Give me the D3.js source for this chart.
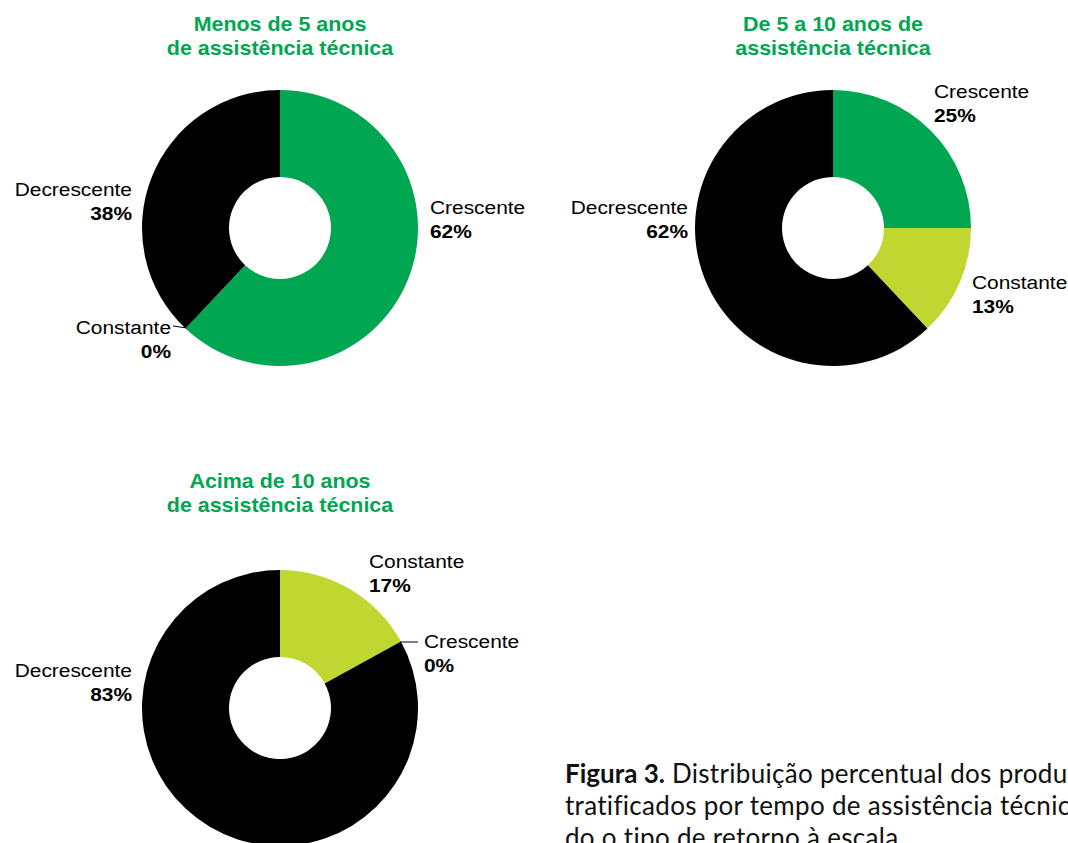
<!DOCTYPE html>
<html><head><meta charset="utf-8">
<script src="https://cdn.jsdelivr.net/npm/d3@7"></script>
<style>
html,body{margin:0;padding:0;background:#fff;}
svg{display:block;}
</style></head>
<body>
<svg id="chart" width="1068" height="843"></svg>
<script>
// ---- data ----
const chartTitles = [
  ["Menos de 5 anos", "de assistência técnica"],
  ["De 5 a 10 anos de", "assistência técnica"],
  ["Acima de 10 anos", "de assistência técnica"]
];
const categories1 = ["Crescente", "Constante", "Decrescente"];
const values1 = [62, 0, 38];
const categories2 = ["Crescente", "Constante", "Decrescente"];
const values2 = [25, 13, 62];
const categories3 = ["Constante", "Crescente", "Decrescente"];
const values3 = [17, 0, 83];
const captionLines = [
  ["Figura 3.", " Distribuição percentual dos produ"],
  ["", "tratificados por tempo de assistência técnica"],
  ["", "do o tipo de retorno à escala"]
];

// ---- styles / layout ----
const colorOf = {Crescente: "#00a651", Constante: "#bfd730", Decrescente: "#000000"};
const titleColor = "#00a651";
const outerR = 138, innerR = 51;
const layouts = [
  {cx: 280, cy: 228, titleY: 24,
   labels: {Crescente: {x: 430, y: 214, anchor: "start"},
            Constante: {x: 171, y: 334, anchor: "end", leader: [173, 326]},
            Decrescente: {x: 132, y: 196, anchor: "end"}}},
  {cx: 833, cy: 228, titleY: 24,
   labels: {Crescente: {x: 934, y: 98, anchor: "start"},
            Constante: {x: 972, y: 289, anchor: "start"},
            Decrescente: {x: 688, y: 214, anchor: "end"}}},
  {cx: 280, cy: 708, titleY: 481,
   labels: {Constante: {x: 369, y: 568, anchor: "start"},
            Crescente: {x: 424, y: 648, anchor: "start", leader: [418, 642]},
            Decrescente: {x: 132, y: 677, anchor: "end"}}}
];
const datasets = [
  {cats: categories1, vals: values1},
  {cats: categories2, vals: values2},
  {cats: categories3, vals: values3}
];
const textFont = "'Liberation Sans', Arial, sans-serif";
const stretch = 1.1;

const svg = d3.select("#chart");
const pie = d3.pie().sort(null).value(d => d.v);
const arc = d3.arc().innerRadius(innerR).outerRadius(outerR);

function stretchedText(parent, x, y, txt, opts) {
  const g = parent.append("g").attr("transform", `translate(${x},${y}) scale(${stretch},1)`);
  g.append("text")
    .attr("x", 0).attr("y", 0)
    .attr("text-anchor", opts.anchor || "start")
    .attr("font-family", textFont)
    .attr("font-size", opts.size)
    .attr("font-weight", opts.weight || "normal")
    .attr("fill", opts.fill || "#000")
    .text(txt);
}

datasets.forEach((ds, i) => {
  const L = layouts[i];
  const data = ds.cats.map((c, j) => ({c, v: ds.vals[j]}));
  const g = svg.append("g").attr("transform", `translate(${L.cx},${L.cy})`);
  const arcs = pie(data);
  g.selectAll("path").data(arcs.filter(a => a.data.v > 0)).join("path")
    .attr("d", arc)
    .attr("fill", d => colorOf[d.data.c]);

  // title
  chartTitles[i].forEach((t, k) => {
    stretchedText(svg, L.cx, L.titleY + 7 + k * 23.5, t,
      {anchor: "middle", size: 19.5, weight: "bold", fill: titleColor});
  });

  // labels
  arcs.forEach(a => {
    const lab = L.labels[a.data.c];
    if (lab.leader) {
      const ang = a.startAngle;
      const sx = L.cx + Math.sin(ang) * (outerR - 1);
      const sy = L.cy - Math.cos(ang) * (outerR - 1);
      svg.append("line")
        .attr("x1", sx).attr("y1", sy)
        .attr("x2", lab.leader[0]).attr("y2", lab.leader[1])
        .attr("stroke", "#000").attr("stroke-width", 1);
    }
    stretchedText(svg, lab.x, lab.y, a.data.c, {anchor: lab.anchor, size: 19});
    stretchedText(svg, lab.x, lab.y + 24, a.data.v + "%", {anchor: lab.anchor, size: 19, weight: "bold"});
  });
});

// caption
const cap = svg.append("g");
captionLines.forEach((ln, k) => {
  const t = cap.append("text")
    .attr("x", 565).attr("y", 783 + k * 32)
    .attr("font-family", "Lato, 'Open Sans', sans-serif")
    .attr("font-size", 26)
    .attr("fill", "#111");
  if (ln[0]) t.append("tspan").attr("font-weight", "bold").text(ln[0]);
  t.append("tspan").attr("letter-spacing", 0.3).text(ln[1]);
});
</script>
</body></html>
